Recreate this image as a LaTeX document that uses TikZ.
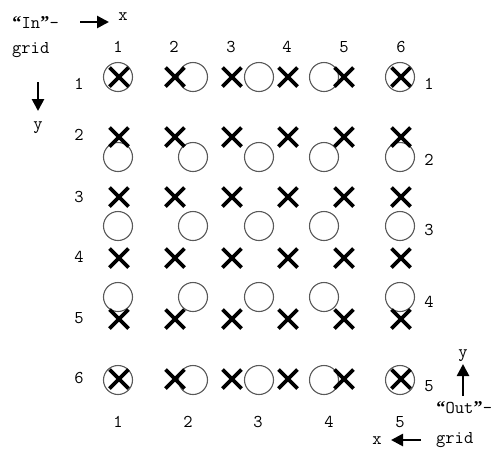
\documentclass[tikz,border=0pt]{standalone}
\usepackage{fontspec}
\newfontfamily\qfont{Liberation Serif}
\usetikzlibrary{arrows.meta}

\newcommand{\openq}{\makebox[0.525em]{\qfont\bfseries “}}
\newcommand{\closeq}{\makebox[0.525em]{\qfont\bfseries ”}}

\begin{document}
\begin{tikzpicture}[x=1pt,y=-1pt,
	lbl/.style={font=\ttfamily\fontsize{18}{20}\selectfont, inner sep=0pt},
	cross/.style={line width=3.8pt},
	ring/.style={line width=1.1pt, draw=black!65},
	arr/.style={line width=2.6pt, -{Triangle[length=12pt,width=12pt]}}]

	\useasboundingbox (0,0) rectangle (498,451);

	%Out grid
	\foreach \x in {118,193,259,324,400}
		\foreach \y in {77,157,226,297,380}
			\draw[ring] (\x,\y) circle [radius=14.5];

	%In grid
	\foreach \x in {119,175,232,288,344,401}
		\foreach \y in {77,137,197,258,319,379}
			\draw[cross, shift={(\x,\y)}] (-9.5,-9.5) -- (9.5,9.5) (-9.5,9.5) -- (9.5,-9.5);

	%In labels
	\foreach \x [count=\i] in {118,174,231,287,344,401}
		\node[lbl] (incol\i) at (\x,47) {\i};
	\foreach \y [count=\i] in {84,135,197,257,318,378}
		\node[lbl] (inrow\i) at (79,\y) {\i};

	%Out labels
	\foreach \x [count=\i] in {118,188,258,329,400}
		\node[lbl] (outcol\i) at (\x,422) {\i};
	\foreach \y [count=\i] in {84,160,230,302,386}
		\node[lbl] (outrow\i) at (429,\y) {\i};

	%In axes
	\node[lbl, anchor=west] (intitle) at (12,23) {\openq In\closeq-};
	\node[lbl, anchor=west] (ingrid) at (12,50) {grid};
	\node[lbl] (inx) at (123,17) {x};
	\node[lbl] (iny) at (38,128) {y};
	\coordinate (inxs) at (80,22);
	\coordinate (inxe) at (109,22);
	\coordinate (inys) at (38,82);
	\coordinate (inye) at (38,111);
	\draw[arr] (inxs) -- (inxe);
	\draw[arr] (inys) -- (inye);

	%Out axes
	\node[lbl, anchor=west] (outtitle) at (436,408) {\openq Out\closeq-};
	\node[lbl, anchor=west] (outgrid) at (436,440) {grid};
	\node[lbl] (outy) at (463,356) {y};
	\node[lbl] (outx) at (377,441) {x};
	\coordinate (outys) at (463,396);
	\coordinate (outye) at (463,364);
	\coordinate (outxs) at (421,440);
	\coordinate (outxe) at (391,440);
	\draw[arr] (outys) -- (outye);
	\draw[arr] (outxs) -- (outxe);

\end{tikzpicture}
\end{document}
